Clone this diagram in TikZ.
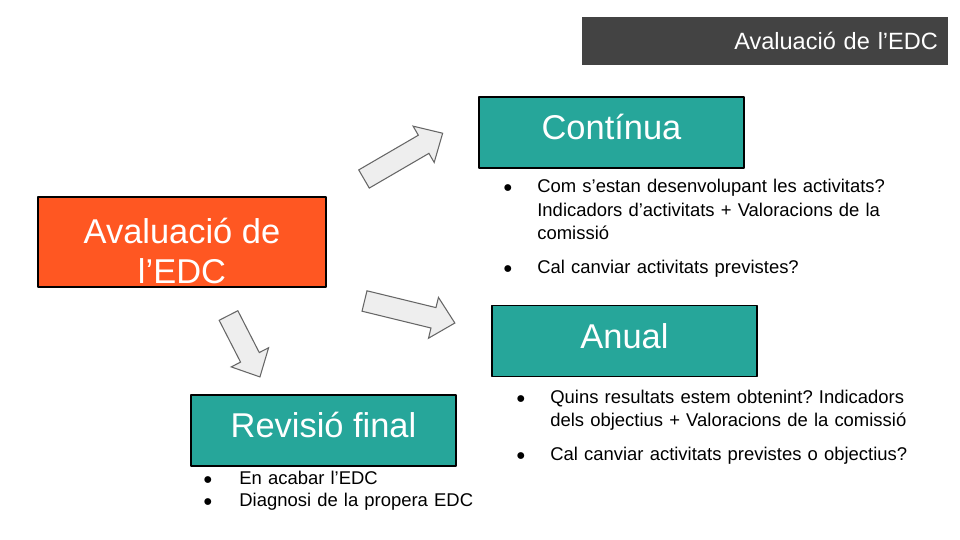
\documentclass[tikz,border=0pt]{standalone}
\usepackage{fontspec}
\setmainfont{Liberation Sans}
\frenchspacing

\definecolor{edcorange}{HTML}{FF5722}
\definecolor{edcteal}{HTML}{26A69A}
\definecolor{edcgray}{HTML}{434343}
\definecolor{arrowfill}{HTML}{EEEEEE}
\definecolor{arrowline}{HTML}{666666}

\begin{document}
\begin{tikzpicture}[line cap=round,line join=round,x=0.02cm,y=-0.02cm,
  box/.style={draw=black,line width=0.9pt,text=white,align=center,inner sep=0pt,
    font=\fontsize{19.6}{22.7}\selectfont,minimum width=5.3cm,minimum height=1.42cm},
  mainbox/.style={box,fill=edcorange,minimum width=5.76cm,minimum height=1.8cm},
  phase/.style={box,fill=edcteal,text height=0.5cm,text depth=0.2cm},
  item/.style={anchor=base west,inner sep=0pt,text width=8cm,align=left,
    font=\fontsize{10.5}{13.2}\selectfont},
  dot/.style={anchor=base,inner sep=0pt,font=\fontsize{9}{9}\selectfont},
  blockarrow/.style={draw=arrowline,fill=arrowfill,line width=0.6pt,line join=miter}]
\fill[white] (0,0) rectangle (960,540);
\useasboundingbox (0,0) rectangle (960,540);

\node[fill=edcgray,text=white,minimum width=7.32cm,minimum height=0.96cm,inner xsep=0.2cm,
  text width=6.92cm,align=right,font=\fontsize{13.4}{16}\selectfont] (title) at (765,41) {Avaluació de l'EDC};

\node[mainbox] (edc) at (182,242) {\rule{0pt}{1.28em}Avaluació de\\l'EDC};
\node[phase] (cont) at (611.5,132.5) {Contínua};
\node[phase] (anual) at (624.5,341) {Anual};
\node[phase] (final) at (323.5,430.5) {Revisió final};

\foreach \tx/\ty/\ang/\len in {364/179/30.2/91, 364.5/301/-13.7/93, 228.5/315.5/-62.9/69}
  \draw[blockarrow,shift={(\tx,\ty)},rotate=\ang] (0,-10.5) -- (\len-22,-10.5) -- (\len-22,-21)
    -- (\len,0) -- (\len-22,21) -- (\len-22,10.5) -- (0,10.5) -- cycle;

\node[dot] (cb1) at (508,193) {●};
\node[item] (c1) at (537,193) {Com s'estan desenvolupant les activitats?\\Indicadors d'activitats + Valoracions de la\\comissió};
\node[dot] (cb2) at (508,274) {●};
\node[item] (c2) at (537,274) {Cal canviar activitats previstes?};

\node[dot] (ab1) at (521,403) {●};
\node[item] (a1) at (550,403) {Quins resultats estem obtenint? Indicadors\\dels objectius + Valoracions de la comissió};
\node[dot] (ab2) at (521,460) {●};
\node[item] (a2) at (550,460) {Cal canviar activitats previstes o objectius?};

\node[dot] (fb1) at (208,484) {●};
\node[item] (f1) at (239,484) {En acabar l'EDC};
\node[dot] (fb2) at (208,506) {●};
\node[item] (f2) at (239,506) {Diagnosi de la propera EDC};

\end{tikzpicture}
\end{document}
